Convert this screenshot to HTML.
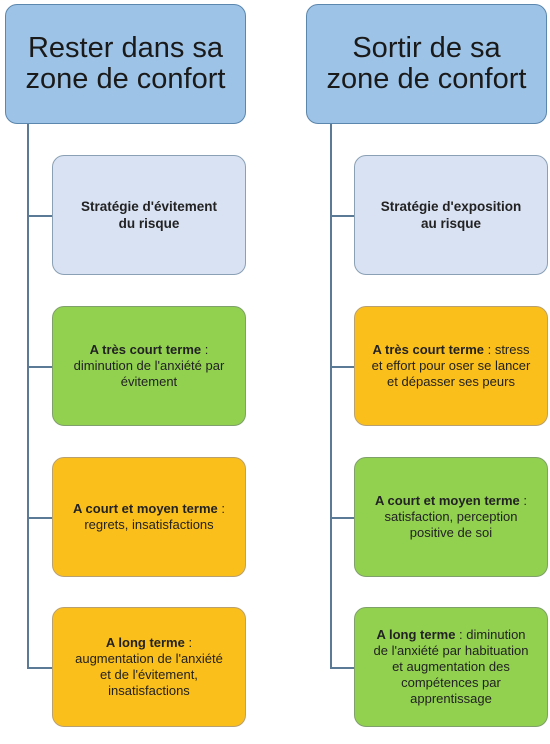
<!DOCTYPE html>
<html><head><meta charset="utf-8"><style>
body{margin:0;width:550px;height:744px;background:#fff;position:relative;overflow:hidden;font-family:"Liberation Sans",sans-serif;}
.b{position:absolute;box-sizing:border-box;border-radius:12px;display:flex;align-items:center;justify-content:center;text-align:center;color:#222;}
.h{background:#9dc3e6;border:1.5px solid #5b86ad;font-size:29px;line-height:31px;width:241px;height:120px;top:4px;letter-spacing:0px;color:#1a1a1a;}
.c{width:194px;height:120px;font-size:13px;line-height:16px;padding:0 4px;border:1.5px solid #8aa0b5;}
.s{background:#d9e2f3;font-weight:bold;font-size:13.5px;line-height:17px;}
.g{background:#92d050;border-color:#7fa06a;}
.o{background:#fbbf1c;border-color:#b9a070;}
.v{position:absolute;width:1.5px;background:#5b7a96;}
.l{position:absolute;height:1.5px;background:#5b7a96;}
</style></head><body>
<div class="v" style="left:27px;top:123px;height:545px"></div>
<div class="v" style="left:330px;top:123px;height:545px"></div>
<div class="l" style="left:27px;top:215px;width:26px"></div>
<div class="l" style="left:27px;top:366px;width:26px"></div>
<div class="l" style="left:27px;top:517px;width:26px"></div>
<div class="l" style="left:27px;top:667px;width:26px"></div>
<div class="l" style="left:330px;top:215px;width:24px"></div>
<div class="l" style="left:330px;top:366px;width:24px"></div>
<div class="l" style="left:330px;top:517px;width:24px"></div>
<div class="l" style="left:330px;top:667px;width:24px"></div>

<div class="b h" style="left:5px">Rester dans sa<br>zone de confort</div>
<div class="b h" style="left:306px">Sortir de sa<br>zone de confort</div>

<div class="b c s" style="left:52px;top:155px">Stratégie d'évitement<br>du risque</div>
<div class="b c g" style="left:52px;top:306px"><div><b>A très court terme</b> :<br>diminution de l'anxiété par<br>évitement</div></div>
<div class="b c o" style="left:52px;top:457px"><div><b>A court et moyen terme</b> :<br>regrets, insatisfactions</div></div>
<div class="b c o" style="left:52px;top:607px"><div><b>A long terme</b> :<br>augmentation de l'anxiété<br>et de l'évitement,<br>insatisfactions</div></div>

<div class="b c s" style="left:354px;top:155px">Stratégie d'exposition<br>au risque</div>
<div class="b c o" style="left:354px;top:306px"><div><b>A très court terme</b> : stress<br>et effort pour oser se lancer<br>et dépasser ses peurs</div></div>
<div class="b c g" style="left:354px;top:457px"><div><b>A court et moyen terme</b> :<br>satisfaction, perception<br>positive de soi</div></div>
<div class="b c g" style="left:354px;top:607px"><div><b>A long terme</b> : diminution<br>de l'anxiété par habituation<br>et augmentation des<br>compétences par<br>apprentissage</div></div>
</body></html>
